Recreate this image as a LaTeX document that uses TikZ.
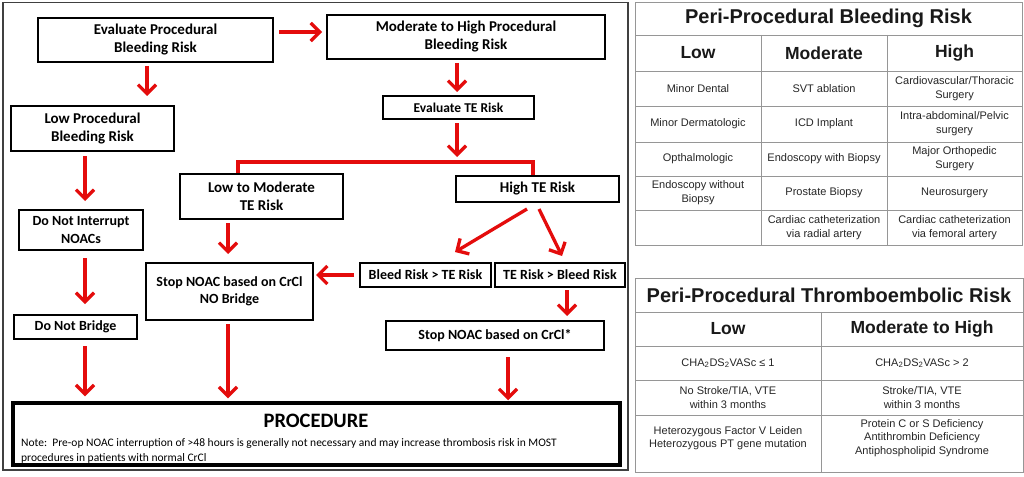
\documentclass[tikz,border=0pt]{standalone}
\usepackage{fontspec}
\setmainfont{Liberation Sans}
\newfontfamily\carl{Carlito}
\usetikzlibrary{arrows.meta}
\definecolor{arrred}{RGB}{228,12,12}
\definecolor{tgray}{RGB}{150,150,150}
\begin{document}
\begin{tikzpicture}[x=1pt,y=-1pt,
  box/.style={draw=black, line width=2pt, align=center, inner sep=0pt, fill=white,
    font=\carl\bfseries\fontsize{15}{18}\selectfont},
  sbox/.style={box, font=\carl\bfseries\fontsize{14}{17.5}\selectfont},
  arr/.style={draw=arrred, line width=3.3pt, -{Straight Barb[length=9pt,width=18pt]}},
  redline/.style={draw=arrred, line width=3.3pt},
  tline/.style={draw=tgray, line width=0.9pt},
  ttitle/.style={font=\bfseries\fontsize{20}{24}\selectfont, inner sep=0pt, text=black!90},
  thead/.style={font=\bfseries\fontsize{17.5}{21}\selectfont, inner sep=0pt, text=black!90},
  cell/.style={font=\fontsize{11}{14}\selectfont, align=center, inner sep=0pt, text=black!85},
  notetext/.style={font=\carl\fontsize{11.5}{15}\selectfont, inner sep=0pt, anchor=base west}
]
\useasboundingbox (0,0) rectangle (1024,476);
\fill[white] (0,0) rectangle (1024,476);

% flowchart frame
\draw[line width=1.4pt, draw=black!75] (3,2.5) rectangle (628,470);

% boxes
\node[box, minimum width=235, minimum height=44] (ebr) at (155.5,40) {Evaluate Procedural\\Bleeding Risk};
\node[box, minimum width=278, minimum height=44] (mhb) at (466,37) {Moderate to High Procedural\\Bleeding Risk};
\node[box, minimum width=163, minimum height=45] (lpb) at (92.5,128.5) {Low Procedural\\Bleeding Risk};
\node[box, minimum width=151, minimum height=23, font=\carl\bfseries\fontsize{13.5}{16}\selectfont] (ete) at (458.5,107.5) {Evaluate TE Risk};
\node[box, minimum width=163, minimum height=45] (ltm) at (261.5,196.5) {Low to Moderate\\TE Risk};
\node[box, minimum width=163, minimum height=26] (hte) at (537.5,189) {High TE Risk};
\node[sbox, minimum width=124, minimum height=40] (dni) at (81,230) {Do Not Interrupt\\NOACs};
\node[sbox, minimum width=123, minimum height=24] (dnb) at (75.5,327) {Do Not Bridge};
\node[sbox, minimum width=167, minimum height=57] (snb) at (229.5,291.5) {Stop NOAC based on CrCl\\NO Bridge};
\node[sbox, minimum width=131, minimum height=24] (brt) at (425.5,275) {Bleed Risk > TE Risk};
\node[sbox, minimum width=130, minimum height=24] (trb) at (560,275) {TE Risk > Bleed Risk};
\node[sbox, minimum width=218, minimum height=29] (snc) at (495,335.5) {Stop NOAC based on CrCl*};
\node[draw=black, line width=3.5pt, minimum width=607, minimum height=62, inner sep=0pt] (proc) at (316.5,434) {};
\node[font=\carl\bfseries\fontsize{20.5}{24}\selectfont, inner sep=0pt] (proct) at (316,421) {PROCEDURE};
\node[notetext] (note1) at (21,446) {Note:\ \ Pre-op NOAC interruption of >48 hours is generally not necessary and may increase thrombosis risk in MOST};
\node[notetext] (note2) at (21,461) {procedures in patients with normal CrCl};

% connectors
\coordinate (split) at (457,162);
\draw[arr, shorten <=5pt, shorten >=4pt] ([shift={(0,-8)}]ebr.east) -- ([shift={(0,-8)}]ebr.east -| mhb.west);
\draw[arr, shorten <=3pt, shorten >=9pt] ([shift={(-8.5,0)}]ebr.south) -- ([shift={(-8.5,0)}]ebr.south |- lpb.north);
\draw[arr, shorten <=3pt, shorten >=3pt] ([shift={(-1.5,0)}]ete.north |- mhb.south) -- ([shift={(-1.5,0)}]ete.north);
\draw[arr, shorten <=3pt] ([shift={(-1.5,0)}]ete.south) -- ([shift={(0,-5)}]split);
\draw[redline] ([shift={(-23.5,0)}]ltm.north) |- (split) -| ([shift={(-4.5,0)}]hte.north);
\draw[arr, shorten <=4pt, shorten >=8pt] ([shift={(4,0)}]dni.north |- lpb.south) -- ([shift={(4,0)}]dni.north);
\draw[arr, shorten <=7pt, shorten >=10pt] ([shift={(4,0)}]dni.south) -- ([shift={(4,0)}]dni.south |- dnb.north);
\draw[arr, shorten <=6pt, shorten >=5pt] ([shift={(9.5,0)}]dnb.south) -- ([shift={(9.5,0)}]dnb.south |- proc.north);
\draw[arr, shorten <=3pt, shorten >=8pt] ([shift={(-1.5,0)}]snb.north |- ltm.south) -- ([shift={(-1.5,0)}]snb.north);
\draw[arr, shorten <=3pt, shorten >=3pt] ([shift={(-1.5,0)}]snb.south) -- ([shift={(-1.5,0)}]snb.south |- proc.north);
\draw[arr] ([shift={(-10.5,6)}]hte.south) -- ([shift={(29.5,-10)}]brt.north);
\draw[arr] ([shift={(1.5,6)}]hte.south) -- ([shift={(2,-6)}]trb.north);
\draw[arr, shorten <=5pt, shorten >=2pt] (brt.west) -- (brt.west -| snb.east);
\draw[arr, shorten <=2pt, shorten >=4pt] ([shift={(7,0)}]trb.south) -- ([shift={(7,0)}]trb.south |- snc.north);
\draw[arr, shorten <=6pt, shorten >=1pt] ([shift={(13,0)}]snc.south) -- ([shift={(13,0)}]snc.south |- proc.north);

% bleeding risk table
\draw[tline] (635,2) rectangle (1022,245);
\foreach \yy in {35,71,106,142,176,210} \draw[tline] (635,\yy) -- (1022,\yy);
\foreach \xx in {761,887} \draw[tline] (\xx,35) -- (\xx,245);
\node[ttitle] (bt) at (828.5,18.5) {Peri-Procedural Bleeding Risk};
\node[thead] (bl) at (698,53) {Low};
\node[thead] (bm) at (824,53) {Moderate};
\node[thead] (bh) at (954.5,53) {High};
\node[cell] (b11) at (698,88.5) {Minor Dental};
\node[cell] (b12) at (824,88.5) {SVT ablation};
\node[cell] (b13) at (954.5,88.5) {Cardiovascular/Thoracic\\Surgery};
\node[cell] (b21) at (698,124) {Minor Dermatologic};
\node[cell] (b22) at (824,124) {ICD Implant};
\node[cell] (b23) at (954.5,124) {Intra-abdominal/Pelvic\\surgery};
\node[cell] (b31) at (698,159) {Opthalmologic};
\node[cell] (b32) at (824,159) {Endoscopy with Biopsy};
\node[cell] (b33) at (954.5,159) {Major Orthopedic\\Surgery};
\node[cell] (b41) at (698,193) {Endoscopy without\\Biopsy};
\node[cell] (b42) at (824,193) {Prostate Biopsy};
\node[cell] (b43) at (954.5,193) {Neurosurgery};
\node[cell] (b52) at (824,227.5) {Cardiac catheterization\\via radial artery};
\node[cell] (b53) at (954.5,227.5) {Cardiac catheterization\\via femoral artery};

% thromboembolic risk table
\draw[tline] (635,278) rectangle (1023,472);
\foreach \yy in {312,346,380,415} \draw[tline] (635,\yy) -- (1023,\yy);
\draw[tline] (821,312) -- (821,472);
\node[ttitle] (tt) at (829,295) {Peri-Procedural Thromboembolic Risk};
\node[thead] (tl) at (728,329) {Low};
\node[thead] (tm) at (922,329) {Moderate to High};
\node[cell] (t11) at (728,363) {CHA\textsubscript{2}DS\textsubscript{2}VASc ≤ 1};
\node[cell] (t12) at (922,363) {CHA\textsubscript{2}DS\textsubscript{2}VASc > 2};
\node[cell] (t21) at (728,397.5) {No Stroke/TIA, VTE\\within 3 months};
\node[cell] (t22) at (922,397.5) {Stroke/TIA, VTE\\within 3 months};
\node[cell, font=\fontsize{11}{13.5}\selectfont] (t31) at (728,438) {Heterozygous Factor V Leiden\\Heterozygous PT gene mutation};
\node[cell, font=\fontsize{11}{13.5}\selectfont] (t32) at (922,438) {Protein C or S Deficiency\\Antithrombin Deficiency\\Antiphospholipid Syndrome};
\end{tikzpicture}
\end{document}
